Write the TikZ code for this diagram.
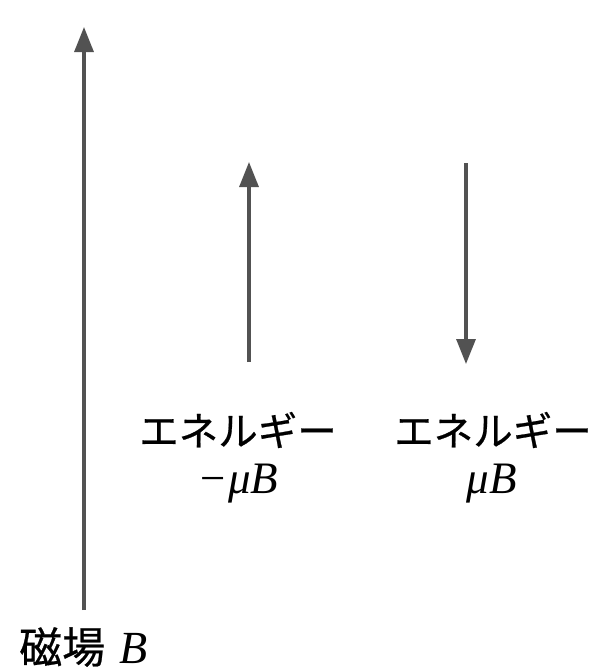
\documentclass[tikz,border=0pt]{standalone}
\usepackage{fontspec}
\newfontfamily\jp{Noto Sans CJK JP}[FakeBold=0.6]
\newfontfamily\myital{Liberation Serif}
\usetikzlibrary{arrows.meta}
\begin{document}
\begin{tikzpicture}[x=1pt,y=-1pt,
  vec/.style={draw=black!68,line width=3.2pt,-{Triangle[length=25pt,width=19pt]}},
  lbl/.style={font=\fontsize{39.5}{44}\selectfont\jp,inner sep=0pt,anchor=center},
  mth/.style={font=\fontsize{45}{50}\selectfont\myital\itshape,inner sep=0pt,anchor=center}]
\useasboundingbox (0,0) rectangle (597,672);
\coordinate (bb) at (84,610);
\coordinate (bt) at (84,27);
\coordinate (ub) at (249,362);
\coordinate (ut) at (249,162);
\coordinate (dt) at (466,163);
\coordinate (db) at (466,364);
\draw[vec] (bb) -- (bt);
\draw[vec] (ub) -- (ut);
\draw[vec] (dt) -- (db);
\node[lbl] (e1) at (238,430) {エネルギー};
\node[lbl] (e2) at (493,430) {エネルギー};
\node[mth] (m1) at (238,484) {−μB};
\node[mth] (m2) at (492,484) {μB};
\node[lbl,anchor=west,font=\fontsize{43}{48}\selectfont\jp] (f) at (19,647) {磁場\hspace{14pt}{\fontsize{46}{50}\selectfont\myital\itshape B}};
\end{tikzpicture}
\end{document}
